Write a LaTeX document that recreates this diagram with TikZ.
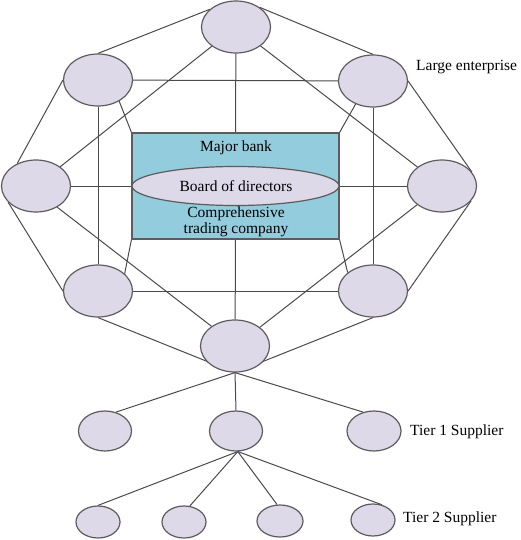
\documentclass[tikz,border=0pt]{standalone}
\usepackage{fontspec}
\setmainfont{Liberation Serif}
\newfontfamily\tnr{Liberation Serif}
\usetikzlibrary{shapes.geometric}
\pgfdeclarelayer{bg}
\pgfsetlayers{bg,main}
\definecolor{nodefill}{HTML}{DDD9E8}
\definecolor{boxfill}{HTML}{93CDDD}
\definecolor{edgecol}{HTML}{4A4A4A}
\tikzset{
  ent/.style={ellipse, draw=edgecol!90, line width=1.2pt, fill=nodefill, inner sep=0pt, minimum width=69pt, minimum height=52pt},
  sup1/.style={ent, minimum width=53pt, minimum height=40pt},
  sup2/.style={ent, minimum width=44pt, minimum height=32pt},
  link/.style={draw=edgecol, line width=1pt},
  lbl/.style={font=\tnr\fontsize{15.5}{17}\selectfont, inner sep=0pt},
}
\begin{document}
\begin{tikzpicture}[x=1pt,y=-1pt]
\useasboundingbox (0,0) rectangle (520,540);
% nodes
\node[ent] (T) at (236,27) {};
\node[ent] (UL) at (98,80) {};
\node[ent] (UR) at (373,81) {};
\node[ent] (L) at (36,186) {};
\node[ent] (R) at (442,186) {};
\node[ent] (LL) at (98,291) {};
\node[ent] (LR) at (373,291) {};
\node[ent] (B) at (235,346) {};
\node[draw=edgecol!90, line width=1.1pt, fill=boxfill, minimum width=207pt, minimum height=106pt, inner sep=0pt] (box) at (235.5,186) {};
\node[ent, minimum width=207pt, minimum height=39pt] (board) at (235.5,186) {};
\node[lbl] (boardtxt) at (236,186) {Board of directors};
\node[lbl] (bank) at (236,148) {Major bank};
\node[lbl, align=center, font=\tnr\fontsize{15.5}{16}\selectfont] (trade) at (236,222) {Comprehensive\\trading company};
\node[sup1] (s1a) at (105,431) {};
\node[sup1] (s1b) at (236,431) {};
\node[sup1, minimum width=54pt] (s1c) at (374,431) {};
\node[sup2] (s2a) at (98,522) {};
\node[sup2] (s2b) at (184,522) {};
\node[sup2, minimum width=46pt] (s2c) at (280,521) {};
\node[sup2] (s2d) at (373,520) {};
\node[lbl, anchor=west] (lent) at (416,67) {Large enterprise};
\node[lbl, anchor=west] (tier1) at (410,432) {Tier 1 Supplier};
\node[lbl, anchor=west] (tier2) at (403,519) {Tier 2 Supplier};
% connectors
\begin{pgfonlayer}{bg}
\draw[link] (UL.north) -- (T.146);
\draw[link] (UR.north) -- (T.40);
\draw[link] (T) -- (L);
\draw[link] (T) -- (R);
\draw[link] (T) -- (box.north);
\draw[link] (UL) -- (UR);
\draw[link] (UL.west) -- (L.130);
\draw[link] (UR.east) -- (R.25);
\draw[link] (UL) -- (LL);
\draw[link] (UR) -- (LR);
\draw[link] (UL.-45) -- (box.north west);
\draw[link] (UR.233) -- (box.north east);
\draw[link] (L) -- (board);
\draw[link] (R) -- (board);
\draw[link] (L.210) -- (LL.west);
\draw[link] (R.-27) -- (LR.east);
\draw[link] (L.-45) -- (B.140);
\draw[link] (R.217) -- (B.37);
\draw[link] (LL.33) -- (box.south west);
\draw[link] (LR.144) -- (box.south east);
\draw[link] (LL) -- (LR);
\draw[link] (box.south) -- (B);
\draw[link] (LL.south) -- (B.south);
\draw[link] (LR.south) -- (B.south);
\draw[link] (B.south) -- (s1a.60);
\draw[link] (B.south) -- (s1b.north);
\draw[link] (B.south) -- (s1c.120);
\draw[link] (s1b.-85) -- (s2a.north);
\draw[link] (s1b.-85) -- (s2b.70);
\draw[link] (s1b.-85) -- (s2c.100);
\draw[link] (s1b.-85) -- (s2d.60);
\end{pgfonlayer}
\end{tikzpicture}
\end{document}
